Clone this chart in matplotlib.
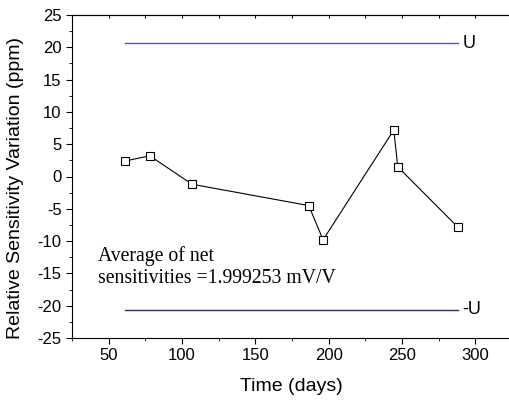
import matplotlib.pyplot as plt
from matplotlib.ticker import MultipleLocator

plt.rcParams['font.family'] = ['Liberation Sans', 'DejaVu Sans']
plt.rcParams['axes.unicode_minus'] = False

# data
days = [61.2, 78.0, 106.9, 186.4, 196.2, 244.4, 247.1, 287.9]
variation = [2.4, 3.2, -1.2, -4.5, -9.8, 7.2, 1.5, -7.8]
limit_days = [61, 288]
u_value = 20.6

fig = plt.figure(figsize=(5.09, 4.01), dpi=100)
# axes box in pixels: left 72, top 15, bottom 338, right runs off the canvas
ax = fig.add_axes([72 / 509, (401 - 338) / 401, (512 - 72) / 509, (338 - 15) / 401])

ax.plot(days, variation, color='black', lw=0.8, marker='s', ms=6,
        mfc='white', mec='black', mew=0.8)
ax.plot(limit_days, [u_value, u_value], color='#5c5c9c', lw=1.0)
ax.plot(limit_days, [-u_value, -u_value], color='#2c2c6c', lw=1.0)

ax.text(291, u_value, 'U', fontsize=13, va='center', ha='left')
ax.text(291, -u_value, '-U', fontsize=13, va='center', ha='left')
ax.text(43, -14.0, 'Average of net\nsensitivities =1.999253 mV/V',
        family='Liberation Serif', fontsize=14.2, va='center', ha='left',
        linespacing=1.2)

ax.set_xlim(25, 325)
ax.set_ylim(-25, 25)
ax.xaxis.set_major_locator(MultipleLocator(50))
ax.xaxis.set_minor_locator(MultipleLocator(25))
ax.yaxis.set_major_locator(MultipleLocator(5))
ax.yaxis.set_minor_locator(MultipleLocator(2.5))
ax.tick_params(which='both', direction='out', labelsize=12, top=False, right=False)
ax.tick_params(which='major', length=4)
ax.tick_params(which='minor', length=2.5)
ax.spines['right'].set_visible(False)

# inward ticks along the top edge
top = ax.secondary_xaxis('top')
top.xaxis.set_major_locator(MultipleLocator(25))
top.tick_params(direction='in', length=2.5, labeltop=False)

ax.set_xlabel('Time (days)', fontsize=14)
ax.set_ylabel('Relative Sensitivity Variation (ppm)', fontsize=14)
ax.xaxis.set_label_coords(0.499, -0.124)
ax.yaxis.set_label_coords(-0.109, 0.464)

fig.savefig('out.png', dpi=100)
